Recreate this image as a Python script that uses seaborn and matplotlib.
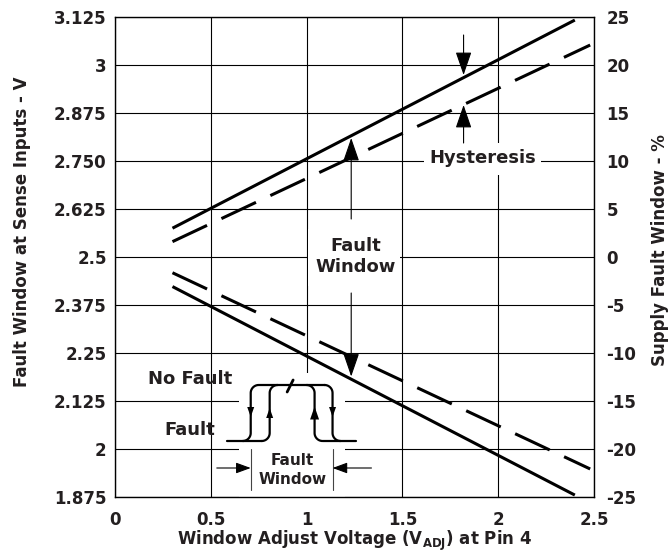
import numpy as np
import pandas as pd
import matplotlib
matplotlib.use("Agg")
import matplotlib.pyplot as plt
import seaborn as sns
from matplotlib.patches import Rectangle

# ---------------- data ----------------
vadj_solid = [0.30, 2.40]
upper_solid = [2.575, 3.117]
lower_solid = [2.423, 1.880]
vadj_dashed = [0.30, 2.48]
upper_dashed = [2.540, 3.052]
lower_dashed = [2.459, 1.948]

x_ticks = [0, 0.5, 1, 1.5, 2, 2.5]
x_tick_labels = ["0", "0.5", "1", "1.5", "2", "2.5"]
y_ticks = [1.875, 2.0, 2.125, 2.25, 2.375, 2.5, 2.625, 2.75, 2.875, 3.0, 3.125]
y_tick_labels = ["1.875", "2", "2.125", "2.25", "2.375", "2.5", "2.625", "2.750", "2.875", "3", "3.125"]
pct_ticks = [-25, -20, -15, -10, -5, 0, 5, 10, 15, 20, 25]
pct_tick_labels = ["-25", "-20", "-15", "-10", "-5", "0", "5", "10", "15", "20", "25"]

# ---------------- style ----------------
sns.set_theme(style="white")
plt.rcParams["font.family"] = ["DejaVu Sans"]
plt.rcParams["font.weight"] = "bold"
plt.rcParams["mathtext.fontset"] = "custom"
plt.rcParams["mathtext.rm"] = "DejaVu Sans:bold"
plt.rcParams["mathtext.bf"] = "DejaVu Sans:bold"
TXT = "#231f20"

fig = plt.figure(figsize=(6.70, 5.56), dpi=100)
L, R, T, B = 115, 594, 17, 497
ax = fig.add_axes([L / 670, 1 - B / 556, (R - L) / 670, (B - T) / 556])

ax.set_xlim(0, 2.5)
ax.set_ylim(1.875, 3.125)

def X(px):
    return (px - 115) / 192.0

def Y(py):
    return 3.125 - (py - 17) / 384.0

# grid
ax.set_axisbelow(True)
ax.grid(True, color="black", lw=0.8)
for s in ax.spines.values():
    s.set_color("black")
    s.set_linewidth(1.0)

# white masks behind labels / inset
ax.add_patch(Rectangle((X(239), Y(497)), X(345) - X(239), Y(373) - Y(497),
                       facecolor="white", edgecolor="none", zorder=1))
ax.add_patch(Rectangle((X(308.5), Y(286)), X(400.5) - X(308.5), Y(229) - Y(286),
                       facecolor="white", edgecolor="none", zorder=1))
ax.add_patch(Rectangle((X(425), Y(175)), X(542) - X(425), Y(143) - Y(175),
                       facecolor="white", edgecolor="none", zorder=1))

# main lines
dash = (0, (12.5, 5.2))
sns.lineplot(x=vadj_solid, y=upper_solid, ax=ax, color="black", lw=2.2,
             solid_capstyle="butt", zorder=3)
sns.lineplot(x=vadj_solid, y=lower_solid, ax=ax, color="black", lw=2.2,
             solid_capstyle="butt", zorder=3)
sns.lineplot(x=vadj_dashed, y=upper_dashed, ax=ax, color="black", lw=2.2,
             linestyle=dash, zorder=3)
sns.lineplot(x=vadj_dashed, y=lower_dashed, ax=ax, color="black", lw=2.2,
             linestyle=dash, zorder=3)

# ticks
ax.set_xticks(x_ticks)
ax.set_xticklabels(x_tick_labels)
ax.set_yticks(y_ticks)
ax.set_yticklabels(y_tick_labels)
ax.tick_params(axis="both", length=0, labelsize=12, colors=TXT)
ax.tick_params(axis="x", pad=10)
ax.tick_params(axis="y", pad=6)

ax.set_xlabel(r"Window Adjust Voltage (V$_{\mathrm{ADJ}}$) at Pin 4",
              fontsize=12, fontweight="bold", color=TXT)
ax.xaxis.set_label_coords(0.5, (497 - 529) / 480)
ax.set_ylabel("Fault Window at Sense Inputs - V", fontsize=12,
              fontweight="bold", color=TXT)
ax.yaxis.label.set_va("center")
ax.yaxis.label.set_ha("center")
ax.yaxis.set_label_coords((22 - 115) / 479, (497 - 232) / 480)

ax2 = ax.twinx()
ax2.set_ylim(-25, 25)
ax2.set_yticks(pct_ticks)
ax2.set_yticklabels(pct_tick_labels)
ax2.tick_params(axis="y", length=0, labelsize=12, colors=TXT, pad=9)
ax2.grid(False)
for s in ax2.spines.values():
    s.set_visible(False)
ax2.set_ylabel("Supply Fault Window - %", fontsize=12, fontweight="bold",
               color=TXT, rotation=90)
ax2.yaxis.label.set_va("center")
ax2.yaxis.label.set_ha("center")
ax2.yaxis.set_label_coords((660 - 115) / 479, (497 - 250) / 480)

# ---------------- annotations ----------------
def arrow(tail, tip, hl=1.45, hw=0.5, lw=0.8):
    ax.annotate("", xy=(X(tip[0]), Y(tip[1])), xytext=(X(tail[0]), Y(tail[1])),
                arrowprops=dict(arrowstyle=f"-|>,head_length={hl},head_width={hw}",
                                color="black", lw=lw, shrinkA=0, shrinkB=0,
                                mutation_scale=10),
                zorder=4)

# Fault Window arrows
arrow((351.7, 219), (351.7, 138))
arrow((351.7, 293), (351.7, 376.5))
ax.text(X(356.5), Y(256.5), "Fault\nWindow", ha="center", va="center",
        fontsize=13, fontweight="bold", color=TXT, linespacing=1.25, zorder=4)

# Hysteresis arrows
arrow((464.3, 35), (464.3, 75))
arrow((464.3, 143), (464.3, 105))
ax.text(X(483.5), Y(158), "Hysteresis", ha="center", va="center",
        fontsize=13, fontweight="bold", color=TXT, zorder=4)

# ---------------- inset schematic ----------------
ax.text(X(190.5), Y(379), "No Fault", ha="center", va="center",
        fontsize=13, fontweight="bold", color=TXT, zorder=4)
ax.text(X(190), Y(430), "Fault", ha="center", va="center",
        fontsize=13, fontweight="bold", color=TXT, zorder=4)

yb, yt, r = 441, 385, 8

def arcpts(cx, cy, a0, a1, n=14):
    t = np.radians(np.linspace(a0, a1, n))
    return list(cx + r * np.cos(t)), list(cy + r * np.sin(t))

def draw_px(xs, ys, lw=1.6):
    ax.plot([X(v) for v in xs], [Y(v) for v in ys], color="black", lw=lw,
            solid_capstyle="round", zorder=4)

def rising_s(v):
    xa, ya = arcpts(v - r, yb - r, 90, 0)
    xb, yb2 = arcpts(v + r, yt + r, 180, 270)
    draw_px(xa + xb, ya + yb2)

def falling_s(v):
    xa, ya = arcpts(v - r, yt + r, 270, 360)
    xb, yb2 = arcpts(v + r, yb - r, 180, 90)
    draw_px(xa + xb, ya + yb2)

rising_s(251)
rising_s(270)
falling_s(315)
falling_s(333)
draw_px([227, 262], [yb, yb])
draw_px([259, 325], [yt, yt])
draw_px([323, 357], [yb, yb])
# break mark
draw_px([287.5, 293.5], [392, 380], lw=2.0)

def tri(v, yc, up, hw=3.5, hl=5):
    if up:
        pts = [(v - hw, yc + hl), (v + hw, yc + hl), (v, yc - hl)]
    else:
        pts = [(v - hw, yc - hl), (v + hw, yc - hl), (v, yc + hl)]
    ax.fill([X(p[0]) for p in pts], [Y(p[1]) for p in pts], color="black",
            lw=0, zorder=5)

tri(251, 412, up=False)
tri(270, 413, up=True)
tri(315, 413, up=True, hw=4.5, hl=6.5)
tri(333, 412, up=False)

# fault window markers (bottom)
ax.plot([X(251), X(251)], [Y(449), Y(490)], color="#444444", lw=0.8, zorder=4)
ax.plot([X(333), X(333)], [Y(449), Y(490)], color="#444444", lw=0.8, zorder=4)
arrow((217, 468), (251, 468), hl=0.9, hw=0.33, lw=0.8)
arrow((372, 468), (333, 468), hl=0.9, hw=0.33, lw=0.8)
ax.text(X(293), Y(470), "Fault\nWindow", ha="center", va="center",
        fontsize=11, fontweight="bold", color=TXT, linespacing=1.3, zorder=4)

fig.savefig("out.png", dpi=100)
